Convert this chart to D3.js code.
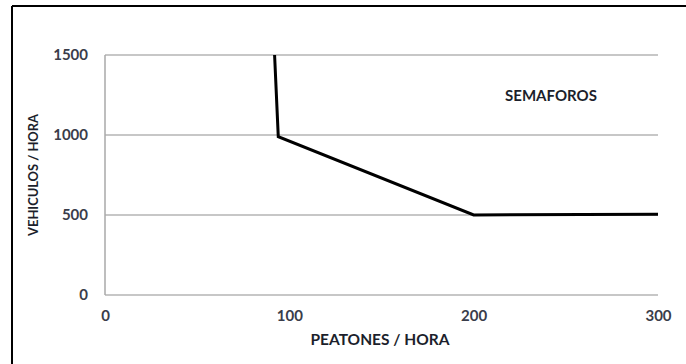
<!DOCTYPE html>
<html>
<head>
<meta charset="utf-8">
<script src="https://cdn.jsdelivr.net/npm/d3@7/dist/d3.min.js"></script>
<style>
  html, body { margin: 0; padding: 0; background: #fff; }
  svg { display: block; }
  text { font-family: Lato, "Open Sans", sans-serif; font-weight: bold; }
</style>
</head>
<body>
<svg id="chart" width="686" height="364"></svg>
<script>
// Data
const peatones = [92, 94, 200, 300];
const vehiculos = [1500, 990, 500, 505];
const xTicks = [0, 100, 200, 300];
const yTicks = [0, 500, 1000, 1500];
const xTitle = "PEATONES / HORA";
const yTitle = "VEHICULOS / HORA";
const annotation = "SEMAFOROS";

const svg = d3.select("#chart");
const margin = { left: 105, right: 28, top: 55, bottom: 69 };
const W = 686, H = 364;

const x = d3.scaleLinear().domain([0, 300]).range([margin.left, W - margin.right]);
const y = d3.scaleLinear().domain([0, 1500]).range([H - margin.bottom, margin.top]);

// outer frame (top and left visible)
svg.append("line").attr("x1", 12).attr("x2", W).attr("y1", 6).attr("y2", 6)
  .attr("stroke", "#000").attr("stroke-width", 2);
svg.append("line").attr("x1", 12).attr("x2", 12).attr("y1", 6).attr("y2", H)
  .attr("stroke", "#000").attr("stroke-width", 2);

// gridlines
svg.append("g").selectAll("line").data(yTicks).join("line")
  .attr("x1", x(0)).attr("x2", x(300))
  .attr("y1", d => y(d)).attr("y2", d => y(d))
  .attr("stroke", "#b4b4b4").attr("stroke-width", 1.5);

// left axis line
svg.append("line").attr("x1", x(0)).attr("x2", x(0)).attr("y1", y(0)).attr("y2", y(1500))
  .attr("stroke", "#a8a8a8").attr("stroke-width", 1.5);

const fmt = d3.format("d");

// y axis
const yAxis = d3.axisLeft(y).tickValues(yTicks).tickFormat(fmt).tickSize(0).tickPadding(17);
const gy = svg.append("g").attr("transform", `translate(${x(0)},0)`).call(yAxis);
gy.select(".domain").remove();
gy.selectAll("text").attr("fill", "#3a3d4a").style("font-size", "15px")
  .style("font-family", "Lato, sans-serif").style("font-weight", "bold");

// x axis
const xAxis = d3.axisBottom(x).tickValues(xTicks).tickFormat(fmt).tickSize(0).tickPadding(15);
const gx = svg.append("g").attr("transform", `translate(0,${y(0)})`).call(xAxis);
gx.select(".domain").remove();
gx.selectAll("text").attr("fill", "#3a3d4a").style("font-size", "15px")
  .style("font-family", "Lato, sans-serif").style("font-weight", "bold");

// line
const pts = peatones.map((p, i) => [p, vehiculos[i]]);
svg.append("path").datum(pts)
  .attr("d", d3.line().x(d => x(d[0])).y(d => y(d[1])))
  .attr("fill", "none").attr("stroke", "#000").attr("stroke-width", 3)
  .attr("stroke-linejoin", "miter");

// titles
svg.append("text").attr("x", 380).attr("y", 341).attr("text-anchor", "middle")
  .attr("dominant-baseline", "middle").attr("fill", "#1c1f2c")
  .style("font-size", "15.5px").text(xTitle);
svg.append("text").attr("transform", "translate(35,175) rotate(-90)")
  .attr("text-anchor", "middle").attr("dominant-baseline", "middle")
  .attr("fill", "#1c1f2c").style("font-size", "12.9px").text(yTitle);
svg.append("text").attr("x", 551).attr("y", 97).attr("text-anchor", "middle")
  .attr("dominant-baseline", "middle").attr("fill", "#1c1f2c")
  .style("font-size", "15px").text(annotation);
</script>
</body>
</html>
